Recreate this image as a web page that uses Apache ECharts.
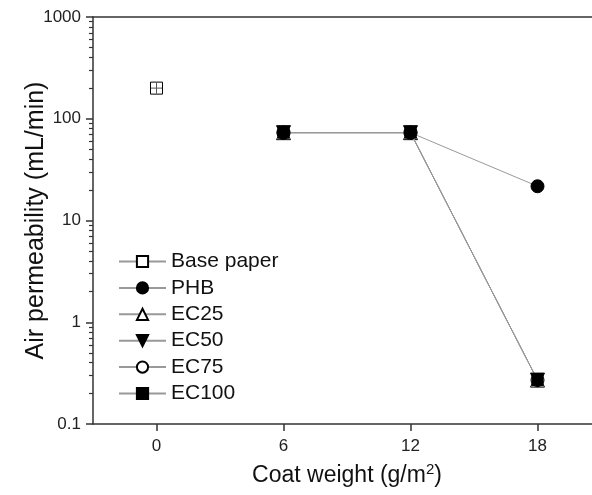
<!DOCTYPE html>
<html><head><meta charset="utf-8">
<script src="https://cdn.jsdelivr.net/npm/echarts@6/dist/echarts.min.js"></script>
<style>html,body{margin:0;padding:0;background:#fff}#c{width:592px;height:495px}</style>
</head><body><div id="c"></div>
<script>
var coatWeights = [6, 12, 18];
var basePaperX = [0];
var basePaper = [200];
var phb = [73, 73, 21.7];
var ec25 = [73, 73, 0.27];
var ec50 = [73, 73, 0.27];
var ec75 = [73, 73, 0.27];
var ec100 = [73, 73, 0.27];
var xTicks = [0, 6, 12, 18];
var yMajor = [0.1, 1, 10, 100, 1000];
var yMinor = [0.2,0.3,0.4,0.5,0.6,0.7,0.8,0.9,2,3,4,5,6,7,8,9,20,30,40,50,60,70,80,90,200,300,400,500,600,700,800,900];

function pairs(xs, ys){ return xs.map(function(x,i){return [x, ys[i]];}); }
var FONT = 'Arial, "Liberation Sans", sans-serif';
var lineCol = '#999';
var chart = echarts.init(document.getElementById('c'), null, {renderer:'canvas'});
function ser(name, data, symbol, size, fill, z){
  return {name:name, type:'line', data:data, symbol:symbol, symbolSize:size, z:z,
    lineStyle:{color:lineCol, width:1}, itemStyle:{color:fill, borderColor:'#000', borderWidth:1},
    emphasis:{disabled:true}, animation:false};
}
chart.setOption({
  animation:false,
  grid:{left:93, top:17, width:508, height:407, show:false, outerBoundsMode:'none', containLabel:false},
  legend:{
    orient:'vertical', left:113, top:246, itemWidth:47, itemHeight:14, itemGap:5.4,
    textStyle:{fontFamily:FONT, fontSize:21, color:'#111', lineHeight:21},
    data:['Base paper','PHB','EC25','EC50','EC75','EC100'], selectedMode:false
  },
  xAxis:[{type:'value', min:-3, max:21,
    name:'Coat weight (g/m{sup|2})', nameLocation:'middle', nameGap:38, nameMoveOverlap:false,
    nameTextStyle:{fontFamily:FONT, fontSize:23, color:'#111', rich:{sup:{fontSize:15, fontFamily:FONT, color:'#111', padding:[0,0,12,0]}}},
    axisLine:{onZero:false, lineStyle:{color:'#333', width:1.5}},
    axisTick:{customValues:xTicks, length:7, inside:false, lineStyle:{color:'#333', width:1.5}},
    axisLabel:{customValues:xTicks, fontFamily:FONT, fontSize:17, color:'#222', margin:14},
    splitLine:{show:false}
  },{type:'value', min:-3, max:21, position:'top',
    axisLine:{onZero:false, lineStyle:{color:'#333', width:1.5}},
    axisTick:{show:false}, axisLabel:{show:false}, splitLine:{show:false}
  }],
  yAxis:[{type:'log', logBase:10, min:0.1, max:1000,
    name:'Air permeability (mL/min)', nameLocation:'middle', nameGap:44, nameMoveOverlap:false,
    nameTextStyle:{fontFamily:FONT, fontSize:25, color:'#111'},
    axisLine:{onZero:false, lineStyle:{color:'#333', width:1.5}},
    axisTick:{length:7, lineStyle:{color:'#333', width:1.5}},
    axisLabel:{fontFamily:FONT, fontSize:17, color:'#222', margin:12, formatter:function(v){return String(+v.toPrecision(3));}},
    splitLine:{show:false}
  },{type:'log', logBase:10, min:0.1, max:1000, position:'left',
    axisLine:{show:false, onZero:false}, axisLabel:{show:false}, splitLine:{show:false},
    axisTick:{customValues:yMinor, length:4, lineStyle:{color:'#333', width:1.2}}
  }],
  series:[
    ser('Base paper', pairs(basePaperX, basePaper), 'rect', 12, '#fff', 3),
    {name:'bpcross', type:'line', data:pairs(basePaperX, basePaper), symbol:'path://M5,0L5,10M0,5L10,5', symbolSize:11, z:4,
      itemStyle:{color:'none', borderColor:'#555', borderWidth:1}, lineStyle:{width:0}, emphasis:{disabled:true}},
    ser('EC25', pairs(coatWeights, ec25), 'triangle', 14, '#fff', 2),
    ser('EC75', pairs(coatWeights, ec75), 'circle', 13, '#fff', 2),
    ser('PHB', pairs(coatWeights, phb), 'circle', 13, '#000', 3),
    ser('EC50', pairs(coatWeights, ec50), 'path://M0,0L10,0L5,9Z', 14, '#000', 3),
    ser('EC100', pairs(coatWeights, ec100), 'rect', 11, '#000', 3)
  ]
});
</script></body></html>
